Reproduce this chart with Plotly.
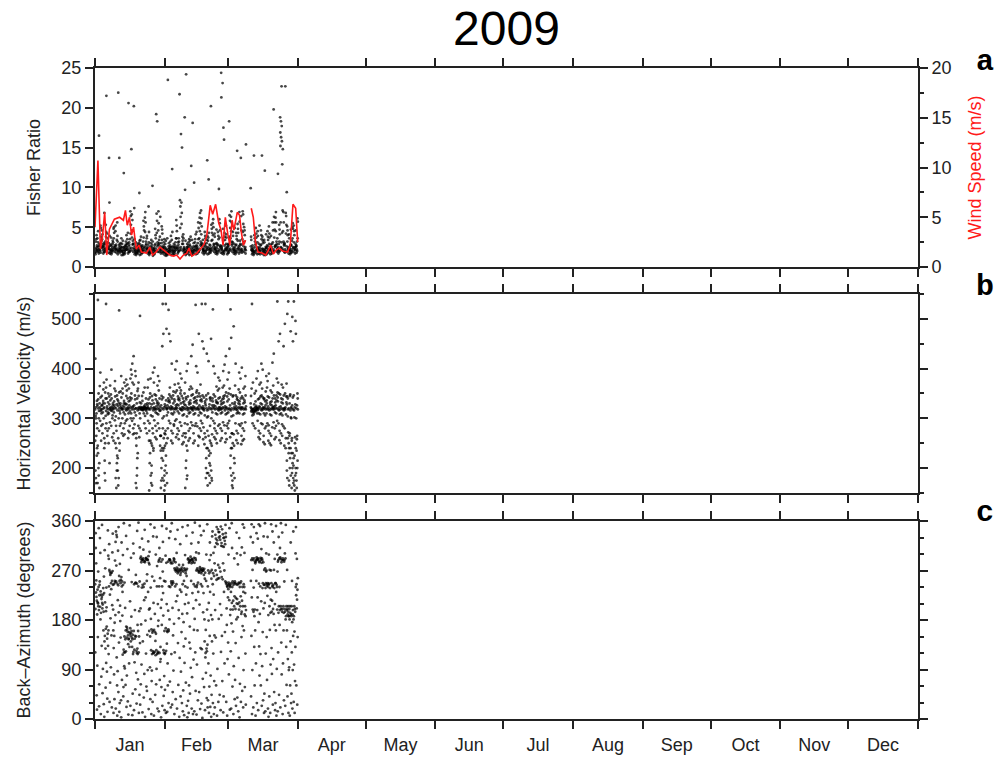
import pandas as pd
import plotly.graph_objects as go

# ---------------- data (2009, day-of-year) ----------------
# Fisher ratio samples, one inner list per day (Jan 1 = day 0); days 67-68 missing
fisher_by_day = [
    [1.8,2.2,2.5,1.9,2.7,3.2,2.1,1.6,4.0,2.4,3.5],
    [1.7,2.3,2.6,3.6,1.9,2.9,4.5,2.2,3.1,16.5,2.0],
    [2.0,2.4,2.8,3.8,2.2,4.9,2.6,1.8,3.3,5.2,2.5],
    [1.9,2.5,3.0,4.1,2.3,2.8,1.7,3.5,2.1,4.6,2.6],
    [2.1,2.7,3.2,4.4,2.4,3.8,1.9,5.3,2.9,2.2,6.8],
    [2.0,2.4,2.9,3.6,21.5,2.2,1.8,3.1,2.6,4.2,2.3],
    [1.9,2.3,2.7,13.7,2.1,3.0,1.7,2.5,3.9,2.2,8.1],
    [1.8,2.2,2.6,3.3,2.0,2.9,1.6,2.4,3.7,2.1,2.8],
    [2.0,2.5,3.1,4.3,2.2,5.0,1.9,3.6,2.7,4.8,2.4],
    [2.1,2.6,3.4,5.2,2.3,4.5,1.8,3.9,2.8,5.6,2.2],
    [1.9,2.2,21.9,13.7,2.0,2.7,1.6,2.4,3.2,2.1,2.9],
    [1.8,2.1,2.5,3.0,1.9,2.6,1.5,2.3,3.6,2.0,2.4],
    [1.7,2.0,2.4,2.9,1.8,2.5,1.5,2.2,3.3,11.8,2.1],
    [1.8,2.2,2.6,3.2,2.0,2.8,1.6,2.4,4.0,2.1,2.7],
    [1.9,2.3,20.6,3.5,2.1,2.9,1.7,2.5,4.3,2.2,3.0],
    [2.0,2.6,3.5,5.3,2.3,6.4,1.9,4.2,2.8,7.0,3.1],
    [2.1,2.8,14.8,5.9,2.4,4.6,1.9,3.7,2.9,6.6,3.3],
    [1.8,2.2,2.6,20.2,2.0,2.9,1.6,2.4,3.5,2.1,7.4],
    [1.7,2.0,2.4,2.9,1.8,2.6,1.5,2.2,3.1,1.9,2.3],
    [1.7,2.1,2.5,3.0,1.9,2.7,1.5,2.3,3.3,2.0,9.3],
    [1.8,2.2,2.6,3.4,2.0,2.8,1.6,2.4,3.8,2.1,2.5],
    [2.0,2.5,3.2,4.6,2.2,5.1,1.8,3.7,2.7,5.8,2.4],
    [2.1,2.7,3.6,5.6,2.3,6.9,1.9,4.4,2.9,6.2,3.2],
    [1.9,2.3,2.8,3.9,2.1,4.4,1.7,3.1,2.5,7.6,2.2],
    [1.7,2.0,2.4,3.0,1.8,2.6,1.5,2.2,3.4,1.9,2.3],
    [1.6,1.9,2.3,2.8,1.7,2.5,1.4,2.1,3.2,1.8,10.2],
    [1.8,2.2,2.7,3.6,2.0,4.0,1.6,2.9,2.4,4.8,2.1],
    [2.0,2.6,19.2,18.3,2.3,5.8,1.9,4.3,2.8,6.7,3.1],
    [2.1,2.8,3.8,5.5,2.4,7.0,1.9,4.6,3.0,6.3,3.4],
    [1.9,2.4,3.0,4.2,2.1,4.7,1.7,3.4,2.6,5.1,2.3],
    [1.7,2.0,2.5,3.1,1.8,2.7,1.5,2.2,3.5,1.9,2.4],
    [1.6,1.9,2.3,2.9,1.7,2.5,1.4,2.1,3.3,1.8,2.2],
    [1.7,2.0,23.5,3.0,1.8,2.6,1.5,2.2,3.6,1.9,2.4],
    [1.7,2.1,2.5,3.2,1.9,2.7,1.5,2.3,3.9,2.0,2.5],
    [1.8,2.2,2.6,3.4,2.0,2.9,1.6,2.4,4.4,2.1,12.3],
    [1.7,2.1,2.5,3.1,1.9,2.7,1.5,2.3,3.6,2.0,2.4],
    [1.9,2.4,3.1,4.5,2.1,5.2,1.7,3.6,2.6,5.9,2.3],
    [2.1,2.8,21.7,6.3,2.4,7.6,2.0,4.9,3.2,8.4,3.6],
    [2.2,2.9,16.7,15.0,2.5,6.8,2.0,5.4,3.3,8.1,3.8],
    [1.9,2.3,18.8,3.6,2.1,4.1,1.7,2.9,2.5,9.7,2.2],
    [1.7,2.0,24.2,2.9,1.8,2.5,1.5,2.2,3.3,1.9,2.3],
    [1.7,2.1,2.5,3.1,1.9,2.7,1.5,2.3,3.5,2.0,2.4],
    [1.8,2.2,12.7,3.3,2.0,2.8,1.6,2.4,3.8,2.1,2.6],
    [1.7,2.1,18.1,3.0,1.9,2.6,1.5,2.3,3.4,2.0,10.6],
    [1.8,2.2,2.7,3.5,2.0,3.1,1.6,2.5,4.1,2.1,2.6],
    [1.9,2.4,3.0,4.4,2.1,4.9,1.7,3.5,2.6,5.6,2.3],
    [2.1,2.7,3.6,5.5,2.3,6.8,1.9,4.5,2.9,6.2,3.2],
    [2.0,2.6,3.4,5.1,2.2,6.1,1.8,4.1,2.8,7.1,3.0],
    [1.8,2.2,2.7,3.6,2.0,3.9,1.6,2.9,2.4,4.4,2.1],
    [1.8,2.2,2.6,3.4,2.0,3.0,1.6,2.4,3.9,2.1,13.4],
    [1.9,2.3,2.8,3.7,2.1,3.3,1.7,2.5,4.3,2.2,11.0],
    [2.0,2.4,20.2,4.3,2.2,4.8,1.8,3.3,2.7,5.3,2.4],
    [2.1,2.6,3.4,5.0,2.3,6.0,1.9,4.0,2.8,5.5,2.9],
    [1.9,2.3,2.9,3.8,2.1,4.2,1.7,3.0,2.5,4.7,2.2],
    [1.8,2.2,2.7,3.5,2.0,3.9,1.6,2.8,2.4,4.4,9.8],
    [2.0,2.5,24.4,4.6,2.2,5.5,1.8,3.7,2.7,6.0,2.6],
    [1.9,2.4,23.1,21.3,2.1,17.5,1.7,3.3,2.6,4.8,2.3],
    [1.8,2.2,16.0,3.4,2.0,3.8,1.6,2.7,2.4,4.3,2.1],
    [1.8,2.3,2.8,3.7,2.0,4.1,1.6,2.9,2.5,5.2,2.2],
    [2.0,2.5,18.3,4.9,2.2,5.8,1.8,3.8,2.7,6.5,2.9],
    [2.1,2.7,3.6,5.6,2.3,7.0,1.9,4.5,2.9,6.3,3.2],
    [1.9,2.3,2.9,3.9,2.1,4.4,1.7,3.1,2.5,4.9,2.2],
    [1.8,2.2,2.7,3.5,2.0,3.9,1.6,2.8,2.4,4.3,2.1],
    [1.9,2.4,14.6,4.3,2.1,4.8,1.7,3.3,2.6,5.4,2.3],
    [2.1,2.7,13.7,5.7,2.3,6.9,1.9,4.6,2.9,6.4,3.3],
    [2.0,2.6,3.5,5.4,2.2,6.6,1.8,4.4,2.8,7.0,3.0],
    [1.9,2.3,15.4,4.0,2.1,4.6,1.7,3.2,2.5,5.0,2.2],
    [],
    [],
    [1.8,2.2,2.7,3.4,2.0,3.8,1.6,2.6,2.4,9.9,2.1],
    [1.7,2.1,14.0,3.2,1.9,3.6,1.5,2.5,2.3,4.0,2.0],
    [1.8,2.2,2.8,3.7,2.0,4.2,1.6,2.9,2.4,4.9,2.1],
    [1.9,2.3,2.9,3.9,2.1,4.5,1.7,3.1,2.5,5.2,2.2],
    [1.8,2.2,2.7,3.5,2.0,4.0,1.6,2.8,2.4,4.6,2.1],
    [1.7,2.0,14.0,3.0,1.8,3.3,1.5,2.3,2.2,3.8,1.9],
    [1.7,2.1,2.5,3.1,1.9,3.4,1.5,2.4,2.2,4.1,12.1],
    [1.8,2.2,2.7,3.4,2.0,3.8,1.6,2.6,2.4,4.5,2.1],
    [1.8,2.3,2.8,3.7,2.0,4.2,1.6,2.9,2.5,5.1,2.2],
    [1.9,2.3,2.9,3.9,2.1,4.6,1.7,3.1,2.5,5.6,2.2],
    [2.0,2.5,19.8,4.7,2.2,5.6,1.8,3.7,2.7,6.3,2.6],
    [2.1,2.7,3.6,5.6,2.3,6.9,1.9,4.5,2.9,6.2,3.2],
    [1.9,2.3,2.9,4.1,2.1,4.7,1.7,3.2,2.5,5.3,11.7],
    [2.0,2.5,22.7,18.8,18.3,17.7,16.9,16.3,15.8,15.2,2.4,4.3,5.6,3.1],
    [2.1,2.7,14.8,5.6,2.3,6.9,1.9,4.5,2.9,7.1,3.2,12.9],
    [2.0,2.6,22.7,5.3,2.2,6.4,1.8,4.2,2.8,6.8,3.0],
    [1.9,2.3,9.4,4.0,2.1,4.6,1.7,3.2,2.5,5.1,2.2],
    [1.8,2.2,2.7,3.6,2.0,4.1,1.6,2.8,2.4,4.7,2.1],
    [2.0,2.5,3.3,4.8,2.2,5.5,1.8,3.6,2.7,5.0,2.4],
    [1.9,2.3,2.9,4.0,2.1,4.5,1.7,3.1,2.5,5.2,2.2],
    [2.0,2.5,3.2,4.6,2.2,5.7,1.8,3.6,2.7,6.1,2.6],
]

# Wind speed (m/s) line, red, right axis of panel a
wind_day = [0.0,1.3,2.4,3.3,4.3,5.2,6.4,8.6,10.9,12.6,13.5,14.3,15.3,16.2,17.1,18.3,19.5,20.6,22.8,24.3,
            25.5,27.0,28.8,30.3,31.7,33.2,34.7,36.2,37.7,39.2,40.7,41.7,42.9,45.2,47.4,48.4,49.6,51.1,52.2,53.5,
            54.8,55.9,56.8,57.8,58.9,59.8,60.8,61.6,63.1,64.1,64.9,65.8,66.8,68.0,69.3,70.2,71.2,72.3,74.2,75.7,
            76.9,77.9,79.1,80.3,81.7,83.2,85.4,86.6,87.8,89.0,89.9]
wind_speed = [4.0,10.7,1.8,3.0,5.5,1.2,3.8,4.8,5.0,4.7,5.7,4.2,5.0,3.2,4.0,1.8,2.2,1.5,1.4,2.0,
              1.2,1.5,2.0,1.7,1.4,1.2,1.1,1.2,0.8,1.2,1.4,1.9,1.1,1.4,2.0,2.3,3.2,6.2,5.3,6.3,
              4.5,3.7,2.2,5.0,3.3,2.2,4.7,3.7,5.5,5.2,3.5,2.2,2.7,None,5.9,5.0,2.5,1.5,1.4,1.2,
              1.7,2.2,1.3,1.7,1.9,1.6,1.5,2.2,6.3,5.9,2.5]

# Horizontal velocity (m/s) samples per day
velocity_by_day = [
    [318,322,310,328,305,265,240,195,170,335,420,300,225,255,180,290],
    [320,315,325,338,300,280,230,185,160,538,350,210,245,200,275,170],
    [322,318,330,342,310,295,255,365,315,326,392,285],
    [320,326,335,345,312,300,270,358,318,330,372,288],
    [315,322,330,352,305,530,240,190,175,340,362,260,215,250,280],
    [318,324,332,340,308,290,265,350,320,312,378,275],
    [320,316,328,336,310,292,250,210,322,344,366,280],
    [318,322,330,340,306,285,262,348,315,326,398,300],
    [322,318,326,344,312,296,255,360,320,334,375,270],
    [316,320,328,338,304,275,225,180,160,346,355,240,210,250,285,195],
    [320,315,325,335,300,517,235,195,165,330,352,250,220,260,180],
    [322,318,330,342,310,290,270,354,320,326,385,285],
    [320,325,335,350,312,300,265,372,318,330,360,280],
    [318,322,330,345,308,295,268,365,316,328,378,290],
    [320,318,328,340,310,298,260,356,322,334,368,275],
    [322,326,336,360,314,300,272,380,320,342,398,285],
    [318,324,340,372,310,295,268,388,322,350,410,280],
    [320,326,338,368,312,300,270,395,318,346,425,288],
    [316,320,330,355,306,270,220,170,160,340,385,245,200,230,260,185],
    [320,318,506,345,310,285,262,360,322,332,372,280],
    [320,321,319,322,318,317,323,320,300,330,345,275],
    [321,320,319,318,322,316,325,320,310,335,352,290],
    [320,319,321,323,318,320,328,315,305,340,362,280],
    [322,318,326,338,310,295,255,362,320,330,378,270],
    [318,322,330,350,306,275,230,185,155,342,380,250,210,255,170,290],
    [320,316,328,345,304,270,235,190,165,336,392,240,205,245,280],
    [322,318,330,348,312,296,262,372,320,338,402,285],
    [320,324,334,346,310,290,258,366,318,330,385,275],
    [318,322,330,340,308,280,245,356,315,326,375,265],
    [320,316,326,338,300,265,220,180,160,345,445,235,200,240,265,175],
    [318,322,328,342,304,270,215,175,155,530,470,240,195,235,260,185,280],
    [320,318,324,336,306,268,225,190,165,530,480,245,205,250,170,275],
    [322,326,334,348,312,295,260,518,320,340,470,280],
    [320,324,332,344,310,290,255,362,318,336,455,275],
    [318,322,330,340,308,288,250,354,320,346,410,270],
    [320,326,334,352,312,295,262,368,318,338,398,285],
    [322,328,338,356,314,298,268,370,320,344,415,280],
    [320,326,336,350,310,292,258,362,318,340,390,275],
    [318,322,330,345,306,285,248,356,316,332,380,265],
    [320,318,328,340,308,290,252,350,322,334,372,270],
    [318,322,326,338,304,262,215,178,160,342,395,235,200,245,185,270],
    [320,316,328,344,310,288,255,358,320,332,410,275],
    [322,320,330,346,312,292,260,364,318,336,425,280],
    [320,324,332,348,308,286,250,360,316,340,448,270],
    [318,322,334,352,310,290,255,528,320,342,405,285],
    [320,318,330,344,306,284,245,356,322,336,392,265],
    [322,326,336,350,312,295,262,368,318,344,470,280],
    [320,324,334,346,310,290,258,530,320,338,455,275],
    [318,320,330,342,306,282,248,530,316,334,440,270],
    [320,316,326,338,302,262,220,190,165,346,430,240,200,240,275,180],
    [318,322,328,340,304,265,225,185,170,350,415,235,210,255,190],
    [320,318,326,336,300,268,230,195,175,342,460,245,205,250,180,285],
    [322,326,334,348,312,295,262,519,320,340,405,280],
    [320,324,332,344,310,290,258,364,318,336,390,275],
    [318,322,330,340,308,285,250,356,316,332,382,270],
    [320,318,328,342,310,288,255,360,322,334,376,280],
    [322,320,330,344,312,292,260,362,318,338,395,275],
    [320,324,332,346,308,286,252,366,316,340,408,270],
    [318,322,334,352,310,290,258,378,320,344,425,285],
    [320,326,338,360,312,295,262,392,318,350,440,280],
    [316,320,330,348,304,270,225,185,165,519,462,240,200,240,270,175],
    [318,322,328,344,306,268,220,180,160,346,485,245,210,250,190],
    [320,324,332,346,310,290,256,366,318,338,410,275],
    [322,320,330,342,312,288,250,358,316,336,392,270],
    [320,318,328,340,310,285,248,352,322,334,380,265],
    [318,322,330,344,308,290,255,360,320,340,402,280],
    [320,324,332,346,310,292,258,364,318,336,385,275],
    [],
    [],
    [314,318,322,316,312,320,306,345,530,330,360,290],
    [316,314,320,318,312,322,308,350,318,328,372,285],
    [318,320,316,322,314,325,310,355,320,334,380,280],
    [316,320,324,338,310,295,262,368,318,340,395,275],
    [318,322,330,346,308,290,258,372,316,344,410,270],
    [320,318,328,342,310,288,252,360,322,338,398,265],
    [318,322,326,340,306,284,248,354,320,334,385,280],
    [320,324,330,344,310,290,255,362,318,336,375,275],
    [318,320,328,342,308,286,250,356,316,332,390,270],
    [320,318,326,340,306,282,246,352,322,334,412,265],
    [322,324,332,346,312,292,258,366,318,340,430,280],
    [320,326,336,352,310,295,262,380,320,346,535,285],
    [318,322,334,350,308,290,256,372,316,342,455,275],
    [320,324,332,348,310,288,250,368,318,340,470,270],
    [318,320,330,346,306,284,245,362,316,338,445,265],
    [320,322,332,350,308,280,240,370,318,344,490,260],
    [318,320,328,344,304,272,230,195,510,340,535,250,215,180,260],
    [316,322,330,348,302,265,220,185,165,345,475,240,200,240,175,270],
    [318,320,326,342,300,260,210,180,160,504,455,230,190,230,170,255,200],
    [316,322,328,346,302,262,205,175,155,496,535,225,185,220,165,250,200],
    [318,320,326,340,300,258,215,190,160,350,470,235,200,240,175,265],
]

# Back-azimuth (degrees) samples per day
azimuth_by_day = [
    [245,230,215,200,252,190,311,43,121,283,17,338,222],
    [240,225,210,198,235,205,63,149,347,97,268,23,212],
    [250,232,218,204,193,244,181,77,329,9,133,302,226],
    [238,222,208,195,211,226,259,47,161,353,91,27,201],
    [151,164,141,128,229,212,196,307,57,4,274,102],
    [161,146,133,168,155,239,37,297,86,343,203,13],
    [268,265,271,262,241,226,118,31,183,318,66,291],
    [247,251,244,266,269,236,207,94,21,337,152,303],
    [175,161,151,248,245,251,11,36,199,81,288,129],
    [341,331,322,335,246,250,61,19,112,189,279,6],
    [251,243,260,216,194,29,49,13,306,139,87,349],
    [253,241,247,258,206,34,71,148,321,178,3,282],
    [250,244,121,117,126,188,41,96,298,356,231,58],
    [161,150,145,168,121,123,248,62,22,202,333,92],
    [166,152,148,158,145,162,136,79,32,271,309,8],
    [151,158,165,146,155,141,131,24,101,214,293,352],
    [148,153,160,145,156,131,118,249,46,186,7,319],
    [247,245,151,160,146,122,126,54,16,198,301,103],
    [120,118,124,128,150,246,248,28,171,84,342,262],
    [160,150,138,121,250,241,196,72,11,312,357,44],
    [289,292,285,290,295,239,201,99,26,172,328,63],
    [289,286,244,240,246,292,216,141,39,12,308,82],
    [290,288,293,285,292,251,179,59,4,119,344,221],
    [289,284,290,296,263,231,199,89,18,153,323,51],
    [160,150,125,201,239,281,36,9,94,182,304,354],
    [160,163,157,120,118,123,69,31,211,259,332,88],
    [162,158,120,122,116,251,44,6,191,299,348,142],
    [120,125,118,155,241,209,91,19,63,278,169,331],
    [289,292,286,120,122,241,256,14,71,179,311,104],
    [290,286,241,202,171,131,58,24,3,351,109,217],
    [120,118,125,160,229,251,268,42,16,188,78,322],
    [120,124,160,165,209,250,284,53,11,137,297,346],
    [160,158,163,290,286,241,101,29,13,197,329,61],
    [289,283,290,286,247,240,250,68,21,181,341,118],
    [287,283,247,244,250,292,202,88,26,152,356,49],
    [271,268,274,285,290,241,214,121,36,9,327,173],
    [271,270,268,275,265,245,224,62,19,138,302,344],
    [271,273,269,262,280,235,198,111,41,4,318,183],
    [272,270,266,275,245,231,191,86,29,14,158,349],
    [271,268,274,280,251,209,176,102,52,7,298,132],
    [270,273,265,260,241,226,192,66,24,146,333,3],
    [289,292,286,290,284,239,211,139,33,61,352,11],
    [289,291,295,283,287,251,168,93,19,128,319,46],
    [290,288,293,285,245,229,201,76,9,162,339,108],
    [289,284,292,270,241,216,182,51,14,121,303,357],
    [244,248,240,271,268,274,231,99,34,8,161,321],
    [271,269,273,266,276,245,208,129,49,18,301,351],
    [271,270,268,274,265,241,194,127,73,28,2,334],
    [270,273,266,262,255,229,181,112,58,16,342,141],
    [123,120,128,135,251,199,162,38,21,299,354,84],
    [270,265,241,211,151,101,59,34,11,321,179,289],
    [271,268,255,231,189,141,79,44,22,4,332,298],
    [265,260,245,226,181,119,69,29,9,341,302,152],
    [349,335,320,313,328,283,270,253,198,61,21,148],
    [345,330,318,340,325,280,262,255,182,91,31,6],
    [340,326,315,332,350,275,268,256,209,122,44,16],
    [336,320,314,329,345,283,258,254,189,69,12,151],
    [330,318,313,324,338,270,250,231,158,41,101,353],
    [244,248,240,246,242,221,201,109,31,6,331,171],
    [245,240,248,242,236,216,189,81,17,299,347,139],
    [244,247,240,231,211,199,174,59,19,311,123,356],
    [247,250,244,223,215,205,199,96,36,9,292,159],
    [247,245,250,220,210,200,181,71,24,301,138,339],
    [248,244,246,218,209,199,185,111,39,14,329,281],
    [247,250,240,223,212,205,191,64,31,3,298,149],
    [245,240,231,215,205,195,169,89,51,21,312,354],
    [205,198,190,187,240,229,161,58,26,302,119,348],
    [],
    [],
    [289,292,251,221,199,151,89,41,9,331,354,271],
    [199,195,187,289,292,286,239,61,21,131,321,349],
    [289,291,286,294,283,251,198,101,29,6,338,161],
    [289,292,285,290,246,221,176,79,16,132,328,354],
    [290,287,293,284,241,214,191,61,24,118,309,351],
    [289,285,292,247,244,238,201,96,34,11,158,332],
    [247,244,238,271,274,268,211,119,46,14,301,356],
    [245,240,242,247,270,224,189,71,19,149,331,4],
    [217,205,193,246,238,244,271,99,41,11,299,162],
    [215,200,195,240,247,242,270,82,26,129,341,354],
    [244,238,247,271,209,191,171,109,49,16,321,291],
    [240,247,244,268,231,199,161,91,29,6,299,351],
    [289,292,286,205,198,193,240,121,44,14,331,171],
    [289,291,285,294,200,195,205,81,21,139,311,356],
    [289,286,292,193,200,205,250,101,34,9,161,339],
    [289,292,205,195,187,200,181,62,24,131,301,353],
    [205,198,190,187,200,195,161,109,89,41,11,271],
    [200,193,187,205,190,181,141,94,61,29,6,321],
    [198,205,190,187,176,151,121,89,46,19,341,251],
    [205,195,187,200,181,159,131,99,69,31,11,301],
    [256,245,235,225,217,240,201,149,61,26,349,291],
]

YEAR_START = "2009-01-01"
YEAR_END = "2010-01-01"
TITLE = "2009"
PANEL_LETTERS = ["a", "b", "c"]


def flatten(rows):
    """Place each day's samples at distinct times within that day
    (interleaved order so neighbouring days do not line up)."""
    days, vals = [], []
    for d, row in enumerate(rows):
        n = len(row)
        step = 5 if n % 5 else 3
        for i, v in enumerate(row):
            slot = (i * step + d * 7) % n
            days.append(d + (slot + 0.5) / n)
            vals.append(v)
    return days, vals


def to_dates(days):
    out = []
    base = pd.Timestamp(YEAR_START)
    for d in days:
        out.append(None if d is None else (base + pd.to_timedelta(d, unit="D")).isoformat())
    return out


FONT = "Liberation Sans, Arial, Helvetica, sans-serif"
MARK = dict(size=2.8, color="black", opacity=0.72, line=dict(width=0))

fig = go.Figure()

fd, fv = flatten(fisher_by_day)
fig.add_trace(go.Scatter(x=to_dates(fd), y=fv, mode="markers", marker=MARK,
                         xaxis="x", yaxis="y", hoverinfo="skip"))
fig.add_trace(go.Scatter(x=to_dates(wind_day), y=wind_speed, mode="lines",
                         line=dict(color="#ff1a1a", width=1.6), connectgaps=False,
                         xaxis="x", yaxis="y4", hoverinfo="skip"))
vd, vv = flatten(velocity_by_day)
fig.add_trace(go.Scatter(x=to_dates(vd), y=vv, mode="markers", marker=MARK,
                         xaxis="x2", yaxis="y2", hoverinfo="skip"))
ad, av = flatten(azimuth_by_day)
fig.add_trace(go.Scatter(x=to_dates(ad), y=av, mode="markers", marker=MARK,
                         xaxis="x3", yaxis="y3", hoverinfo="skip"))

tickfont = dict(family=FONT, size=18, color="#222")
titlefont = dict(family=FONT, size=18, color="#222")

xcommon = dict(type="date", range=[YEAR_START, YEAR_END], dtick="M1", tick0=YEAR_START,
               ticks="outside", ticklen=8, tickwidth=1.5, tickcolor="#222",
               showline=True, linewidth=2, linecolor="#222", mirror="ticks",
               showgrid=False, zeroline=False, tickfont=tickfont, automargin=False)
ycommon = dict(ticks="outside", ticklen=8, tickwidth=1.5, tickcolor="#222",
               showline=True, linewidth=2, linecolor="#222",
               showgrid=False, zeroline=False, tickfont=tickfont, automargin=False)

dom_a = [0.6943, 1.0]
dom_b = [0.3472, 0.6528]
dom_c = [0.0, 0.3041]

fig.update_layout(
    width=997, height=758,
    margin=dict(l=95, r=79, t=68, b=39, autoexpand=False),
    paper_bgcolor="white", plot_bgcolor="white",
    showlegend=False,
    font=dict(family=FONT, color="#222"),
    title=dict(text=TITLE, x=0.508, xanchor="center", y=0.963, yanchor="middle",
               font=dict(family=FONT, size=48, color="black")),
    xaxis=dict(xcommon, domain=[0, 1], anchor="y", showticklabels=False),
    xaxis2=dict(xcommon, domain=[0, 1], anchor="y2", showticklabels=False),
    xaxis3=dict(xcommon, domain=[0, 1], anchor="y3", showticklabels=True,
                ticklabelmode="period", tickformat="%b"),
    yaxis=dict(ycommon, domain=dom_a, anchor="x", range=[0, 25], dtick=5, tick0=0,
               mirror=False, title=dict(text="Fisher Ratio", font=titlefont, standoff=16)),
    yaxis4=dict(ycommon, overlaying="y", side="right", anchor="x", range=[0, 20],
                dtick=5, tick0=0,
                minor=dict(ticks="outside", ticklen=4, dtick=2.5, tickwidth=1.5, tickcolor="#222"),
                title=dict(text="Wind Speed (m/s)", font=dict(family=FONT, size=18, color="#ff1a1a"),
                           standoff=18)),
    yaxis2=dict(ycommon, domain=dom_b, anchor="x2", range=[150, 550], dtick=100, tick0=0,
                mirror="ticks",
                minor=dict(ticks="outside", ticklen=4, dtick=50, tickwidth=1.5, tickcolor="#222"),
                title=dict(text="Horizontal Velocity (m/s)", font=titlefont, standoff=16)),
    yaxis3=dict(ycommon, domain=dom_c, anchor="x3", range=[0, 360], dtick=90, tick0=0,
                mirror="ticks",
                minor=dict(ticks="outside", ticklen=4, dtick=30, tickwidth=1.5, tickcolor="#222"),
                title=dict(text="Back\u2013Azimuth (degrees)", font=titlefont, standoff=16)),
)

letter_y = [1.009, 0.6636, 0.3164]
for letter, yy in zip(PANEL_LETTERS, letter_y):
    fig.add_annotation(text="<b>%s</b>" % letter, xref="paper", yref="paper",
                       x=1.0814, y=yy, xanchor="center", yanchor="middle", showarrow=False,
                       font=dict(family="Liberation Mono, Courier New, monospace", size=30, color="black"))

fig.write_html("out.html")
